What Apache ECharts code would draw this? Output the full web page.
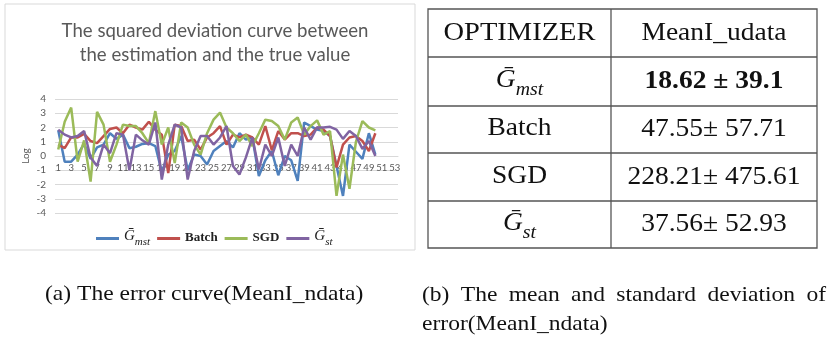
<!DOCTYPE html>
<html>
<head>
<meta charset="utf-8">
<script src="https://cdn.jsdelivr.net/npm/echarts@6/dist/echarts.min.js"></script>
<style>
html,body{margin:0;padding:0;background:#fff}
#main{width:830px;height:342px}
</style>
</head>
<body>
<div id="main"></div>
<script>
// x 轴类别
var xLabels = ['1','2','3','4','5','6','7','8','9','10','11','12','13','14','15','16','17','18','19','20',
  '21','22','23','24','25','26','27','28','29','30','31','32','33','34','35','36','37','38','39','40',
  '41','42','43','44','45','46','47','48','49','50','51','52','53'];

// 四条曲线 (log)
var gMst = [1.8,-0.4,-0.4,0.1,0.85,-0.2,0.6,0.8,1.6,1.2,1.5,0.55,0.65,0.85,0.9,0.7,-1.1,0.1,0.35,1.4,
  -1.0,0.1,0,-0.6,0.35,0.7,1.05,0.6,1.6,1.15,1.3,-1.4,-0.3,0.35,-1.35,0,-0.3,-1.75,2.35,2.1,
  1.85,1.75,1.4,-0.7,-2.8,0.8,0.3,-0.2,1.6,0.1];
var batch = [0.8,0.55,1.3,1.3,1.55,1.05,0.9,1.4,1.9,2.0,1.6,2.2,2.0,1.85,2.4,1.85,1.5,-1.2,2.2,2.1,
  1.05,1.15,0.45,1.3,1.6,2.1,0.8,1.5,1.3,1.5,1.3,0.8,2.1,0.4,1.75,1.15,1.6,1.6,1.4,1.5,
  2.0,1.85,1.4,-0.8,0.8,1.3,1.4,1.05,0.35,1.6];
var sgd = [0.45,2.4,3.4,-0.4,1.1,-1.8,3.1,2.2,-0.4,0.8,2.2,2.1,2.1,1.6,0.9,3.15,0.8,2.0,-0.5,2.35,
  2.0,0.8,0.1,1.6,2.55,3.05,2.0,1.6,1.05,1.5,0.7,1.6,2.55,2.45,2.1,1.15,2.35,2.7,1.5,2.1,
  2.5,1.5,1.75,-2.8,0.1,-2.3,1.0,2.45,2.0,1.8];
var gSt = [1.85,1.5,1.3,1.4,1.75,-0.1,-0.7,0.8,0.2,1.6,1.5,-1.0,1.5,1.1,0.8,2.35,-1.65,0.8,2.2,2.0,
  -1.65,0.35,1.4,1.4,0.8,1.3,2.1,-0.7,-1.3,-0.1,1.3,-0.95,0.8,0,1.3,-0.7,0.8,0,2.0,1.15,
  2.0,2.0,2.05,1.85,1.2,1.75,1.4,0.5,1.05,0];

// 表格
var tableHead = ['OPTIMIZER', 'MeanI_udata'];
var methods = ['Gmst', 'Batch', 'SGD', 'Gst'];
var means = ['18.62', '47.55', '228.21', '37.56'];
var stds = ['39.1', '57.71', '475.61', '52.93'];

var captionA = '(a) The error curve(MeanI_ndata)';
var captionB1 = '(b) The mean and standard deviation of';
var captionB2 = 'error(MeanI_ndata)';

var serif = '"Liberation Serif", "DejaVu Serif", serif';
var colors = ['#4F81BD', '#C0504D', '#9BBB59', '#8064A2'];

function methodLabel(name) {
    if (name == 'Gmst') return '{g|G\u0304}{s|mst}';
    if (name == 'Gst') return '{g|G\u0304}{s|st}';
    return '{n|' + name + '}';
}

// 表格图形
function tableGraphic() {
    var L = 428, R = 817, C = 611;
    var rows = [9, 57, 106, 153, 201, 248];
    var sx = 1.1;
    var g = [];
    g.push({type: 'rect', shape: {x: L, y: rows[0], width: R - L, height: rows[5] - rows[0]},
        style: {fill: 'none', stroke: '#555', lineWidth: 1.3}});
    g.push({type: 'line', shape: {x1: C, y1: rows[0], x2: C, y2: rows[5]}, style: {stroke: '#555', lineWidth: 1.3}});
    for (var i = 1; i < 5; i++) {
        g.push({type: 'line', shape: {x1: L, y1: rows[i], x2: R, y2: rows[i]}, style: {stroke: '#555', lineWidth: 1.3}});
    }
    var c1 = (L + C) / 2, c2 = (C + R) / 2;
    var tRich = {
        g: {fontFamily: serif, fontStyle: 'italic', fontSize: 25, padding: [0, 0, 6, 0], verticalAlign: 'bottom', fill: '#111'},
        s: {fontFamily: serif, fontStyle: 'italic', fontSize: 18, verticalAlign: 'bottom', fill: '#111'},
        n: {fontFamily: serif, fontSize: 25, fill: '#111', padding: [0, 0, 6, 0], verticalAlign: 'bottom'}
    };
    g.push({type: 'text', x: c1, y: (rows[0] + rows[1]) / 2, scaleX: 1.14,
        style: {text: tableHead[0], font: '25px ' + serif, fill: '#111', textAlign: 'center', textVerticalAlign: 'middle'}});
    g.push({type: 'text', x: c2, y: (rows[0] + rows[1]) / 2, scaleX: sx,
        style: {text: tableHead[1], font: '25px ' + serif, fill: '#111', textAlign: 'center', textVerticalAlign: 'middle'}});
    for (var j = 0; j < methods.length; j++) {
        var cy = (rows[j + 1] + rows[j + 2]) / 2;
        g.push({type: 'text', x: c1, y: cy + 2, scaleX: sx,
            style: {text: methodLabel(methods[j]), rich: tRich, textAlign: 'center', textVerticalAlign: 'middle'}});
        var val = j == 0 ? means[j] + ' \u00b1 ' + stds[j] : means[j] + '\u00b1 ' + stds[j];
        g.push({type: 'text', x: c2, y: cy, scaleX: sx,
            style: {text: val, font: (j == 0 ? 'bold ' : '') + '25px ' + serif, fill: '#111', textAlign: 'center', textVerticalAlign: 'middle'}});
    }
    return g;
}

// 两端对齐的一行文字（按词摆放）
function justifiedLine(text, x0, x1, y, font, sx) {
    var ctx = document.createElement('canvas').getContext('2d');
    ctx.font = font;
    var words = text.split(' ');
    var total = 0;
    for (var i = 0; i < words.length; i++) total += ctx.measureText(words[i]).width * sx;
    var gap = (x1 - x0 - total) / (words.length - 1);
    var out = [];
    var x = x0;
    for (var j = 0; j < words.length; j++) {
        out.push({type: 'text', x: x, y: y, scaleX: sx, style: {text: words[j], font: font, fill: '#111', textVerticalAlign: 'middle'}});
        x += ctx.measureText(words[j]).width * sx + gap;
    }
    return out;
}

var myChart = echarts.init(document.getElementById('main'));

var capFont = '22px "Liberation Serif"';
var capSx = 1.07;
var graphics = [
    {type: 'rect', z: -1, shape: {x: 5, y: 4, width: 410, height: 246}, style: {fill: 'none', stroke: '#d9d9d9', lineWidth: 1}},
    {type: 'text', x: 45, y: 294, scaleX: capSx, style: {text: captionA, font: capFont, fill: '#111', textVerticalAlign: 'middle'}},
    {type: 'text', x: 422, y: 324, scaleX: capSx, style: {text: captionB2, font: capFont, fill: '#111', textVerticalAlign: 'middle'}}
].concat(justifiedLine(captionB1, 422, 826, 295, capFont, capSx)).concat(tableGraphic());

var seriesNames = ['Gmst', 'Batch', 'SGD', 'Gst'];
var seriesData = [gMst, batch, sgd, gSt];
var series = [];
for (var k = 0; k < 4; k++) {
    series.push({
        name: seriesNames[k],
        type: 'line',
        data: seriesData[k],
        showSymbol: false,
        symbol: 'none',
        lineStyle: {width: 2.5, color: colors[k]},
        itemStyle: {color: colors[k]}
    });
}

var option = {
    animation: false,
    color: colors,
    title: {
        text: 'The squared deviation curve between\nthe estimation and the true value',
        left: 210,
        top: 14,
        textAlign: 'center',
        textStyle: {fontFamily: 'Lato', fontSize: 18.6, fontWeight: 'normal', color: '#595959', lineHeight: 24}
    },
    legend: {
        data: seriesNames,
        left: 91,
        top: 224,
        itemWidth: 23,
        itemHeight: 3,
        itemGap: 7,
        icon: 'rect',
        formatter: methodLabel,
        textStyle: {
            rich: {
                g: {fontFamily: serif, fontStyle: 'italic', fontSize: 15, color: '#222', padding: [0, 0, 4, 0], verticalAlign: 'bottom'},
                s: {fontFamily: serif, fontStyle: 'italic', fontSize: 11, color: '#222', verticalAlign: 'bottom'},
                n: {fontFamily: serif, fontSize: 13, fontWeight: 'bold', color: '#222', padding: [0, 0, 2, 0], verticalAlign: 'bottom'}
            }
        }
    },
    grid: {left: 55, right: 432, top: 99, bottom: 129},
    xAxis: {
        type: 'category',
        data: xLabels,
        boundaryGap: true,
        offset: -57,
        axisLine: {onZero: false, lineStyle: {color: '#d9d9d9'}},
        axisTick: {show: false},
        axisLabel: {interval: 1, color: '#595959', fontSize: 9.5, margin: 7, fontFamily: 'Lato'}
    },
    yAxis: {
        type: 'value',
        min: -4,
        max: 4,
        interval: 1,
        name: 'Log',
        nameLocation: 'middle',
        nameGap: 24,
        nameRotate: 90,
        nameTextStyle: {color: '#595959', fontSize: 10, fontFamily: 'Lato'},
        axisLine: {show: false},
        axisTick: {show: false},
        axisLabel: {color: '#595959', fontSize: 10, margin: 9, fontFamily: 'Lato'},
        splitLine: {lineStyle: {color: '#d9d9d9', width: 1}}
    },
    graphic: graphics,
    series: series
};

myChart.setOption(option);
</script>
</body>
</html>
